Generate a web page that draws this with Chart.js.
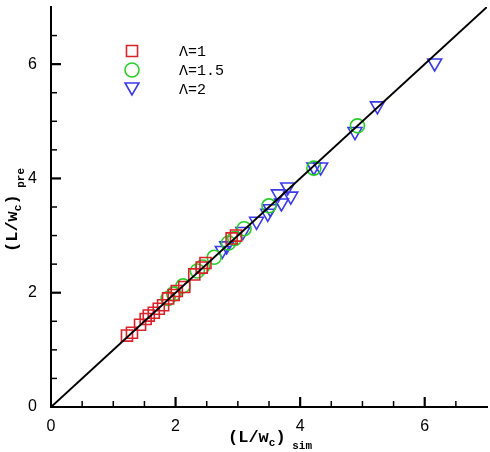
<!DOCTYPE html>
<html>
<head>
<meta charset="utf-8">
<script src="https://cdn.jsdelivr.net/npm/chart.js@4"></script>
<style>
  html, body { margin: 0; padding: 0; background: #fff; }
  #wrap { width: 490px; height: 452px; }
</style>
</head>
<body>
<div id="wrap"><canvas id="chart"></canvas></div>
<script>
// values
const lam1X = [1.22, 1.30, 1.43, 1.52, 1.57, 1.65, 1.73, 1.80, 1.88, 1.97, 2.02, 2.14, 2.30, 2.42, 2.48, 2.90, 2.97];
const lam1Y = [1.25, 1.30, 1.44, 1.54, 1.60, 1.65, 1.72, 1.78, 1.90, 1.96, 2.03, 2.10, 2.32, 2.44, 2.52, 2.95, 3.00];

const lam15X = [1.88, 1.97, 2.12, 2.35, 2.43, 2.62, 2.85, 2.95, 3.10, 3.50, 4.22, 4.92];
const lam15Y = [1.90, 1.98, 2.12, 2.38, 2.45, 2.62, 2.87, 2.95, 3.12, 3.52, 4.18, 4.92];

const lam2X = [2.75, 2.82, 3.08, 3.30, 3.48, 3.52, 3.70, 3.65, 3.80, 3.85, 4.22, 4.33, 4.88, 5.24, 6.16];
const lam2Y = [2.74, 2.82, 3.07, 3.25, 3.39, 3.47, 3.57, 3.73, 3.85, 3.69, 4.20, 4.20, 4.82, 5.27, 6.02];

const lineX = [0, 7];
const lineY = [0, 7];

const seriesLabels = ["Λ=1", "Λ=1.5", "Λ=2"];
const tickValues = [0, 2, 4, 6];
const axisMax = 7;

const pts = (xs, ys) => xs.map((x, i) => ({ x: x, y: ys[i] }));

const styles = [
  { color: "#d9232b", pointStyle: "rect", radius: 7.8, rotation: 0 },
  { color: "#2bcc2b", pointStyle: "circle", radius: 7, rotation: 0 },
  { color: "#3a3ae6", pointStyle: "triangle", radius: 8, rotation: 180 },
];

// inward ticks: major every 2, minor every 0.5
function drawInnerTicks(chart) {
  const c = chart.ctx;
  const xs = chart.scales.x, ys = chart.scales.y;
  const bottom = ys.getPixelForValue(0);
  const left = xs.getPixelForValue(0);
  c.save();
  c.strokeStyle = "#000000";
  for (let k = 1; k < axisMax * 2; k++) {
    const v = k * 0.5;
    const major = k % 4 === 0;
    const len = major ? 10 : 6;
    const px = xs.getPixelForValue(v);
    const py = ys.getPixelForValue(v);
    c.lineWidth = major ? 2.2 : 1.5;
    c.beginPath();
    c.moveTo(px, bottom);
    c.lineTo(px, bottom - len);
    c.stroke();
    c.beginPath();
    c.moveTo(left, py);
    c.lineTo(left + len, py);
    c.stroke();
  }
  c.restore();
}

// axis titles with subscripts
function drawSubText(c, parts, x, y) {
  const widths = parts.map(p => {
    c.font = p.font;
    return c.measureText(p.t).width;
  });
  const total = widths.reduce((a, b) => a + b, 0);
  let cx = x - total / 2;
  parts.forEach((p, i) => {
    c.font = p.font;
    c.fillText(p.t, cx, y + p.dy);
    cx += widths[i];
  });
}

function drawTitles(chart) {
  const c = chart.ctx;
  const area = chart.chartArea;
  const big = "bold 17px 'Liberation Mono', 'DejaVu Sans Mono', monospace";
  const small = "bold 11px 'Liberation Mono', 'DejaVu Sans Mono', monospace";
  c.save();
  c.fillStyle = "#000";
  c.textBaseline = "alphabetic";
  drawSubText(c, [
    { t: "(L/w", font: big, dy: 0 },
    { t: "c", font: small, dy: 4 },
    { t: ")", font: big, dy: 0 },
    { t: " sim", font: small, dy: 7 },
  ], (area.left + area.right) / 2 + 1, 442);

  c.translate(17, (area.top + area.bottom) / 2 + 3);
  c.rotate(-Math.PI / 2);
  drawSubText(c, [
    { t: "(L/w", font: big, dy: 0 },
    { t: "c", font: small, dy: 4 },
    { t: ")", font: big, dy: 0 },
    { t: " pre", font: small, dy: 7 },
  ], 0, 0);
  c.restore();
}

// legend inside the plot
function drawLegend(chart) {
  const c = chart.ctx;
  const area = chart.chartArea;
  const mx = area.left + 81;
  const tx = area.left + 128;
  c.save();
  c.font = "15px 'Liberation Mono', 'DejaVu Sans Mono', monospace";
  c.textBaseline = "middle";
  seriesLabels.forEach((label, i) => {
    const s = styles[i];
    const y = area.top + 44 + i * 19;
    c.strokeStyle = s.color;
    c.fillStyle = "rgba(0,0,0,0)";
    c.lineWidth = 1.6;
    Chart.helpers.drawPoint(c, {
      pointStyle: s.pointStyle,
      radius: s.radius,
      rotation: s.rotation,
      borderWidth: 1.6,
    }, mx, y + (s.pointStyle === "triangle" ? -2 : 0));
    c.fillStyle = "#000";
    c.fillText(label, tx, y + 1);
  });
  c.restore();
}

const decorations = {
  id: "decorations",
  afterDraw(chart) {
    try { drawInnerTicks(chart); } catch (e) { /* keep the rest */ }
    drawTitles(chart);
    drawLegend(chart);
  }
};

const scatterSets = [pts(lam1X, lam1Y), pts(lam15X, lam15Y), pts(lam2X, lam2Y)].map((data, i) => ({
  type: "scatter",
  label: seriesLabels[i],
  data: data,
  pointStyle: styles[i].pointStyle,
  pointRadius: styles[i].radius,
  pointRotation: styles[i].rotation,
  borderColor: styles[i].color,
  backgroundColor: "rgba(0,0,0,0)",
  borderWidth: 1.6,
  order: 2,
}));

const keepTicks = (scale) => {
  scale.ticks = tickValues.map(v => ({ value: v }));
};

const tickFont = { family: "'Liberation Sans', Arial, sans-serif", size: 16 };

const ctx = document.getElementById("chart");
new Chart(ctx, {
  type: "scatter",
  data: {
    datasets: [
      {
        type: "line",
        label: "y=x",
        data: pts(lineX, lineY),
        borderColor: "#000",
        borderWidth: 2,
        pointRadius: 0,
        fill: false,
        order: 1,
      },
      ...scatterSets,
    ],
  },
  options: {
    responsive: true,
    maintainAspectRatio: false,
    animation: false,
    layout: { autoPadding: false, padding: { top: 7, right: 3, left: 0, bottom: 0 } },
    plugins: {
      legend: { display: false },
      tooltip: { enabled: false },
    },
    scales: {
      x: {
        type: "linear",
        min: 0,
        max: axisMax,
        afterBuildTicks: keepTicks,
        afterFit(scale) {
          scale.height = 45;
          scale.paddingLeft = 0;
          scale.paddingRight = 0;
        },
        ticks: {
          padding: 2,
          color: "#000",
          maxRotation: 0,
          font: tickFont,
        },
        grid: { display: false },
        border: { display: true, color: "#000", width: 2 },
      },
      y: {
        type: "linear",
        min: 0,
        max: axisMax,
        afterBuildTicks: keepTicks,
        afterFit(scale) {
          scale.width = 51;
          scale.paddingTop = 0;
          scale.paddingBottom = 0;
        },
        ticks: {
          padding: 6,
          color: "#000",
          font: tickFont,
        },
        grid: { display: false },
        border: { display: true, color: "#000", width: 2 },
      },
    },
  },
  plugins: [decorations],
});
</script>
</body>
</html>
